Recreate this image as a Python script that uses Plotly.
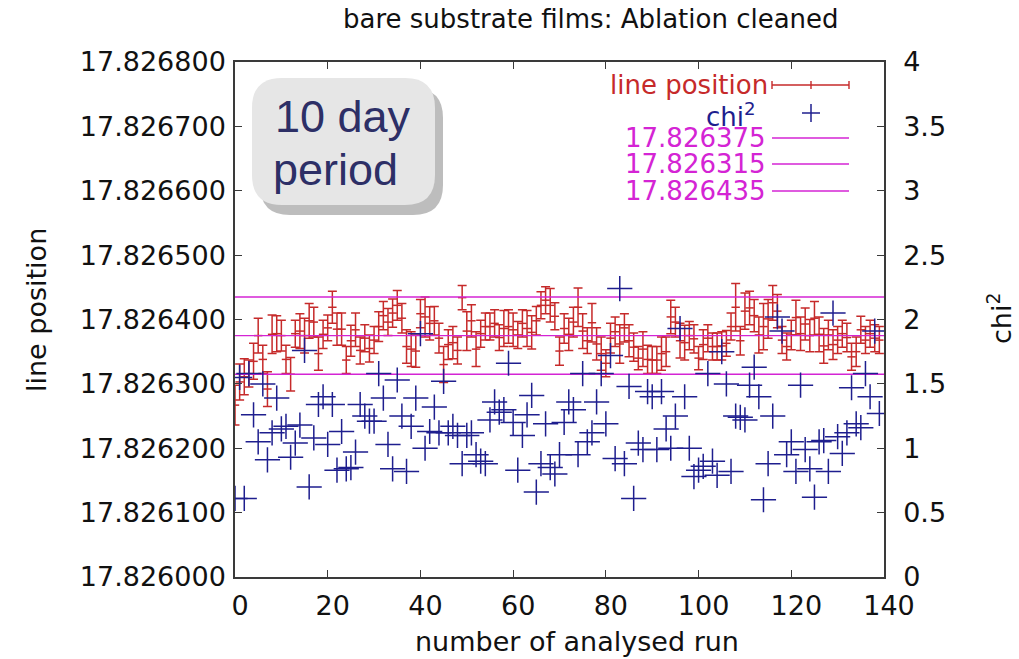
import plotly.graph_objects as go

# ---- data -----------------------------------------------------------------
runs = list(range(140))

line_position = [
    17.826267, 17.826303, 17.826311, 17.826316, 17.826335, 17.826375, 17.826338, 17.826292, 17.826377, 17.826378,
    17.826375, 17.826338, 17.826315, 17.826378, 17.826382, 17.826375, 17.826398, 17.826396, 17.826347, 17.826377,
    17.826387, 17.826419, 17.826385, 17.826385, 17.826337, 17.826367, 17.826384, 17.826352, 17.826371, 17.826355,
    17.826368, 17.826389, 17.826406, 17.826396, 17.826410, 17.826422, 17.826402, 17.826358, 17.826354, 17.826351,
    17.826409, 17.826404, 17.826394, 17.826398, 17.826371, 17.826330, 17.826361, 17.826364, 17.826352, 17.826434,
    17.826382, 17.826398, 17.826354, 17.826378, 17.826389, 17.826389, 17.826394, 17.826372, 17.826386, 17.826389,
    17.826384, 17.826376, 17.826394, 17.826386, 17.826380, 17.826398, 17.826422, 17.826430, 17.826422, 17.826405,
    17.826351, 17.826386, 17.826377, 17.826396, 17.826419, 17.826382, 17.826367, 17.826395, 17.826362, 17.826347,
    17.826332, 17.826371, 17.826381, 17.826362, 17.826387, 17.826367, 17.826357, 17.826340, 17.826354, 17.826338,
    17.826337, 17.826337, 17.826347, 17.826350, 17.826404, 17.826396, 17.826367, 17.826364, 17.826375, 17.826370,
    17.826340, 17.826361, 17.826371, 17.826358, 17.826358, 17.826359, 17.826363, 17.826389, 17.826419, 17.826367,
    17.826413, 17.826418, 17.826406, 17.826376, 17.826389, 17.826401, 17.826426, 17.826413, 17.826368, 17.826358,
    17.826376, 17.826403, 17.826378, 17.826393, 17.826375, 17.826402, 17.826377, 17.826359, 17.826376, 17.826361,
    17.826368, 17.826378, 17.826372, 17.826342, 17.826350, 17.826384, 17.826368, 17.826378, 17.826371, 17.826368,
]

line_error = [
    0.000031, 0.000028, 0.000028, 0.000021, 0.000028, 0.000027, 0.000022, 0.000027, 0.000030, 0.000028,
    0.000024, 0.000022, 0.000026, 0.000021, 0.000027, 0.000027, 0.000027, 0.000023, 0.000026, 0.000022,
    0.000020, 0.000025, 0.000025, 0.000025, 0.000021, 0.000024, 0.000026, 0.000021, 0.000021, 0.000021,
    0.000021, 0.000023, 0.000022, 0.000021, 0.000022, 0.000023, 0.000023, 0.000026, 0.000027, 0.000025,
    0.000022, 0.000031, 0.000026, 0.000022, 0.000023, 0.000028, 0.000023, 0.000025, 0.000021, 0.000019,
    0.000030, 0.000025, 0.000027, 0.000021, 0.000021, 0.000021, 0.000021, 0.000020, 0.000028, 0.000026,
    0.000026, 0.000021, 0.000021, 0.000028, 0.000026, 0.000022, 0.000021, 0.000021, 0.000026, 0.000021,
    0.000022, 0.000023, 0.000025, 0.000023, 0.000030, 0.000027, 0.000020, 0.000030, 0.000025, 0.000026,
    0.000021, 0.000023, 0.000023, 0.000030, 0.000022, 0.000025, 0.000022, 0.000018, 0.000027, 0.000022,
    0.000021, 0.000021, 0.000026, 0.000023, 0.000026, 0.000023, 0.000027, 0.000027, 0.000022, 0.000022,
    0.000018, 0.000023, 0.000021, 0.000021, 0.000021, 0.000022, 0.000020, 0.000021, 0.000037, 0.000022,
    0.000028, 0.000026, 0.000025, 0.000028, 0.000036, 0.000030, 0.000027, 0.000026, 0.000021, 0.000021,
    0.000023, 0.000027, 0.000026, 0.000025, 0.000025, 0.000026, 0.000027, 0.000027, 0.000023, 0.000023,
    0.000021, 0.000021, 0.000022, 0.000021, 0.000023, 0.000021, 0.000021, 0.000021, 0.000021, 0.000021,
]

chi2 = [
    0.61, 1.55, 0.61, 1.58, 1.26, 1.05, 1.50, 0.91, 1.12, 1.39,
    1.15, 1.17, 0.93, 1.04, 1.18, 1.76, 0.70, 1.08, 1.34, 1.40,
    1.03, 1.34, 0.83, 1.13, 0.84, 0.85, 0.97, 1.34, 1.25, 1.21,
    1.21, 1.58, 1.39, 1.03, 0.84, 1.53, 1.25, 0.82, 1.17, 1.39,
    1.89, 1.00, 1.13, 1.32, 1.12, 1.52, 1.12, 1.17, 1.10, 0.88,
    1.10, 1.12, 0.95, 0.90, 0.88, 1.22, 1.36, 1.28, 1.30, 1.66,
    1.20, 0.83, 1.10, 1.26, 1.41, 0.66, 0.88, 1.19, 0.85, 0.80,
    0.95, 1.20, 1.36, 1.30, 0.95, 1.58, 1.05, 1.12, 1.36, 1.58,
    1.19, 1.72, 0.92, 2.24, 0.88, 1.48, 0.61, 1.04, 0.99, 1.44,
    1.40, 0.99, 1.44, 1.15, 1.00, 1.25, 1.93, 1.40, 1.00, 0.78,
    0.83, 0.86, 1.58, 0.90, 0.79, 1.75, 1.50, 0.82, 1.25, 1.24,
    1.22, 1.49, 1.63, 1.40, 0.60, 0.88, 1.25, 2.02, 1.91, 0.95,
    1.05, 0.82, 1.49, 0.99, 0.84, 0.62, 1.05, 1.06, 0.82, 2.05,
    1.09, 0.96, 1.12, 1.47, 1.19, 1.16, 1.58, 1.40, 1.91, 1.27,
]

reference_levels = [17.826375, 17.826315, 17.826435]
reference_labels = ["17.826375", "17.826315", "17.826435"]

x_ticks = [0, 20, 40, 60, 80, 100, 120, 140]
left_ticks = [17.826000, 17.826100, 17.826200, 17.826300, 17.826400,
              17.826500, 17.826600, 17.826700, 17.826800]
right_ticks = [0, 0.5, 1, 1.5, 2, 2.5, 3, 3.5, 4]
right_tick_text = ["0", "0.5", "1", "1.5", "2", "2.5", "3", "3.5", "4"]

# ---- styling --------------------------------------------------------------
RED = "#c62a2a"
BLUE = "#1e1e8e"
MAGENTA = "#d424d4"
AXIS = "#3a3a3a"
FONT = "DejaVu Sans"
BOX_FONT = "Liberation Sans"

W, H = 1019, 659
L, R, T, B = 235, 884, 62, 577   # plot area in pixels


def px(x):
    return (x - L) / (R - L)


def py(y):
    return (B - y) / (B - T)


def rounded_rect(x0, y0, x1, y1, r):
    pts = [
        ("M", (x0 + r, y0)), ("L", (x1 - r, y0)),
        ("Q", (x1, y0), (x1, y0 + r)), ("L", (x1, y1 - r)),
        ("Q", (x1, y1), (x1 - r, y1)), ("L", (x0 + r, y1)),
        ("Q", (x0, y1), (x0, y1 - r)), ("L", (x0, y0 + r)),
        ("Q", (x0, y0), (x0 + r, y0)),
    ]
    out = []
    for item in pts:
        cmd = item[0]
        coords = " ".join(f"{px(a):.5f},{py(b):.5f}" for a, b in item[1:])
        out.append(f"{cmd} {coords}")
    return " ".join(out) + " Z"


fig = go.Figure()

# line positions with error bars
fig.add_trace(go.Scatter(
    x=runs, y=line_position, mode="markers", name="line position",
    marker=dict(symbol="line-ew-open", size=6, color=RED, line=dict(color=RED, width=1.5)),
    error_y=dict(type="data", array=line_error, color=RED, thickness=1.5, width=4.5),
    yaxis="y",
))

# reference levels
for lvl, lab in zip(reference_levels, reference_labels):
    fig.add_trace(go.Scatter(
        x=[0, 140], y=[lvl, lvl], mode="lines", name=lab,
        line=dict(color=MAGENTA, width=1.4), yaxis="y",
    ))

# chi^2 on the right axis
fig.add_trace(go.Scatter(
    x=runs, y=chi2, mode="markers", name="chi2",
    marker=dict(symbol="cross-thin-open", size=18, color=BLUE, line=dict(color=BLUE, width=1.5)),
    yaxis="y2",
))

tickfont = dict(family=FONT, size=27, color="#111111")

fig.update_layout(
    width=W, height=H,
    margin=dict(l=L, r=W - R, t=T, b=H - B, autoexpand=False),
    paper_bgcolor="white", plot_bgcolor="white",
    showlegend=False,
    xaxis=dict(
        range=[0, 140], tickvals=x_ticks, ticks="inside", ticklen=7,
        tickcolor=AXIS, tickwidth=1.2, showline=True, linecolor=AXIS, linewidth=1.5,
        mirror="ticks", showgrid=False, zeroline=False, tickfont=tickfont,
        ticklabelstandoff=4, ticklabelshift=5, automargin=False,
    ),
    yaxis=dict(
        range=[17.826, 17.8268], tickvals=left_ticks, tickformat=".6f",
        ticks="inside", ticklen=7, tickcolor=AXIS, tickwidth=1.2,
        showline=True, linecolor=AXIS, linewidth=1.5, mirror="ticks",
        showgrid=False, zeroline=False, tickfont=tickfont, automargin=False,
        ticklabelstandoff=2,
    ),
    yaxis2=dict(
        range=[0, 4], tickvals=right_ticks, ticktext=right_tick_text,
        overlaying="y", side="right", ticks="inside", ticklen=7,
        tickcolor=AXIS, tickwidth=1.2, showline=True, linecolor=AXIS, linewidth=1.5,
        showgrid=False, zeroline=False, tickfont=tickfont, automargin=False,
        ticklabelstandoff=12,
    ),
)

annotations = []
shapes = []

# title and axis titles
annotations.append(dict(text="bare substrate films: Ablation cleaned", x=px(591), y=py(19),
                        xref="paper", yref="paper", showarrow=False,
                        font=dict(family=FONT, size=26, color="#111111"),
                        xanchor="center", yanchor="middle"))
annotations.append(dict(text="number of analysed run", x=px(577), y=py(641),
                        xref="paper", yref="paper", showarrow=False,
                        font=dict(family=FONT, size=27, color="#111111"),
                        xanchor="center", yanchor="middle"))
annotations.append(dict(text="line position", x=px(36), y=py(310), textangle=-90,
                        xref="paper", yref="paper", showarrow=False,
                        font=dict(family=FONT, size=27, color="#111111"),
                        xanchor="center", yanchor="middle"))
annotations.append(dict(text="chi<sup>2</sup>", x=px(999), y=py(318), textangle=-90,
                        xref="paper", yref="paper", showarrow=False,
                        font=dict(family=FONT, size=27, color="#111111"),
                        xanchor="center", yanchor="middle"))

# key, top right
key_x0, key_x1, key_mid = 772, 849, 811
annotations.append(dict(text="line position", x=px(770), y=py(85), xref="paper", yref="paper",
                        showarrow=False, font=dict(family=FONT, size=26, color=RED),
                        xanchor="right", yanchor="middle"))
shapes.append(dict(type="line", xref="paper", yref="paper", x0=px(key_x0), x1=px(key_x1),
                   y0=py(85), y1=py(85), line=dict(color=RED, width=1.4)))
for kx in (key_x0, key_mid, key_x1):
    shapes.append(dict(type="line", xref="paper", yref="paper", x0=px(kx), x1=px(kx),
                       y0=py(81), y1=py(89), line=dict(color=RED, width=1.4)))

annotations.append(dict(text="chi<sup>2</sup>", x=px(758), y=py(115), xref="paper", yref="paper",
                        showarrow=False, font=dict(family=FONT, size=26, color=BLUE),
                        xanchor="right", yanchor="middle"))
shapes.append(dict(type="line", xref="paper", yref="paper", x0=px(key_mid - 9), x1=px(key_mid + 9),
                   y0=py(113), y1=py(113), line=dict(color=BLUE, width=1.5)))
shapes.append(dict(type="line", xref="paper", yref="paper", x0=px(key_mid), x1=px(key_mid),
                   y0=py(104), y1=py(122), line=dict(color=BLUE, width=1.5)))

for lab, ky in zip(reference_labels, (138, 164, 191)):
    annotations.append(dict(text=lab, x=px(768), y=py(ky), xref="paper", yref="paper",
                            showarrow=False, font=dict(family=FONT, size=26, color=MAGENTA),
                            xanchor="right", yanchor="middle"))
    shapes.append(dict(type="line", xref="paper", yref="paper", x0=px(key_x0), x1=px(key_x1),
                       y0=py(ky), y1=py(ky), line=dict(color=MAGENTA, width=1.4)))

# callout box with drop shadow
shapes.append(dict(type="path", xref="paper", yref="paper",
                   path=rounded_rect(260, 88, 443, 215, 30),
                   fillcolor="#bdbdbd", line=dict(width=0), layer="above"))
shapes.append(dict(type="path", xref="paper", yref="paper",
                   path=rounded_rect(252, 78, 435, 205, 30),
                   fillcolor="#e6e6e6", line=dict(width=0), layer="above"))
annotations.append(dict(text="10 day", x=px(273), y=py(117), xref="paper", yref="paper",
                        showarrow=False, font=dict(family=BOX_FONT, size=45, color="#2d2f66"),
                        xanchor="left", yanchor="middle"))
annotations.append(dict(text="period", x=px(271), y=py(169), xref="paper", yref="paper",
                        showarrow=False, font=dict(family=BOX_FONT, size=45, color="#2d2f66"),
                        xanchor="left", yanchor="middle"))

fig.update_layout(annotations=annotations, shapes=shapes)

fig.write_html("out.html")
